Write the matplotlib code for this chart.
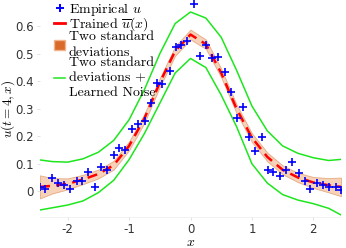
import numpy as np
import matplotlib
matplotlib.use("Agg")
import matplotlib.pyplot as plt
from matplotlib.patches import Patch
from matplotlib.lines import Line2D

plt.rcParams['mathtext.fontset'] = 'cm'
plt.rcParams['axes.unicode_minus'] = False

# empirical samples
x_emp = [-2.448, -2.367, -2.253, -2.163, -2.065, -1.956, -1.850, -1.759, -1.663, -1.560,
         -1.458, -1.360, -1.251, -1.156, -1.059, -0.953, -0.852, -0.746, -0.648, -0.547,
         -0.456, -0.339, -0.244, -0.151, -0.054, 0.052, 0.150, 0.251, 0.350, 0.445,
         0.557, 0.658, 0.749, 0.847, 0.956, 1.054, 1.156, 1.257, 1.350, 1.453,
         1.562, 1.656, 1.759, 1.857, 1.953, 2.060, 2.164, 2.259, 2.365, 2.450]
u_emp = [0.017, 0.007, 0.047, 0.030, 0.023, 0.007, 0.037, 0.037, 0.069, 0.016,
         0.087, 0.077, 0.131, 0.157, 0.149, 0.227, 0.245, 0.255, 0.320, 0.393,
         0.391, 0.439, 0.526, 0.533, 0.548, 0.681, 0.493, 0.533, 0.485, 0.487,
         0.435, 0.362, 0.265, 0.305, 0.196, 0.147, 0.196, 0.076, 0.069, 0.055,
         0.076, 0.108, 0.068, 0.037, 0.007, 0.030, 0.024, 0.014, 0.014, 0.006]

# trained mean, band and noise curves on a grid
x_grid = [-2.45, -2.25, -2.0, -1.75, -1.5, -1.25, -1.0, -0.75, -0.5, -0.25, 0.0,
          0.25, 0.5, 0.75, 1.0, 1.25, 1.5, 1.75, 2.0, 2.25, 2.45]
u_mean = [0.016, 0.020, 0.027, 0.043, 0.063, 0.095, 0.165, 0.265, 0.395, 0.510, 0.570,
          0.535, 0.430, 0.300, 0.195, 0.125, 0.078, 0.050, 0.032, 0.022, 0.016]
two_std = [0.042, 0.028, 0.020, 0.017, 0.016, 0.016, 0.016, 0.016, 0.016, 0.017, 0.018,
           0.017, 0.016, 0.016, 0.016, 0.016, 0.016, 0.017, 0.020, 0.026, 0.034]
noise_hi = [0.114, 0.108, 0.106, 0.118, 0.142, 0.185, 0.260, 0.370, 0.500, 0.610, 0.652,
            0.630, 0.560, 0.440, 0.310, 0.220, 0.165, 0.138, 0.122, 0.112, 0.116]
noise_lo = [-0.068, -0.060, -0.050, -0.035, -0.005, 0.040, 0.115, 0.210, 0.320, 0.430, 0.483,
            0.450, 0.350, 0.235, 0.100, 0.030, -0.012, -0.032, -0.045, -0.062, -0.086]

yticks = [0, 0.1, 0.2, 0.3, 0.4, 0.5, 0.6]
ytick_labels = ['0', '0.1', '0.2', '0.3', '0.4', '0.5', '0.6']
xticks = [-2, -1, 0, 1, 2]

fig = plt.figure(figsize=(3.46, 2.48), dpi=100)
ax = fig.add_axes([40 / 346, 31 / 248, 301 / 346, 217 / 248])

xg = np.array(x_grid)
mu = np.array(u_mean)
sd = np.array(two_std)

ax.fill_between(xg, mu - sd, mu + sd, facecolor='#f0b48a', alpha=0.6,
                edgecolor='#d9844e', linewidth=0.6)
ax.plot(xg, mu, color='red', linestyle=(0, (4, 2.5)), linewidth=1.8)
ax.plot(xg, noise_hi, color='#1ee61e', linewidth=1.1)
ax.plot(xg, noise_lo, color='#1ee61e', linewidth=1.1)
ax.plot(x_emp, u_emp, linestyle='none', marker='+', color='#0000ff',
        markersize=6, markeredgewidth=1.2)

ax.set_xlim(-2.45, 2.45)
ax.set_ylim(-0.0935, 0.6956)
ax.set_xticks(xticks)
ax.set_xticklabels([str(t) for t in xticks])
ax.set_yticks(yticks)
ax.set_yticklabels(ytick_labels)
ax.tick_params(labelsize=8.5, colors='#dddddd', labelcolor='#333333',
               length=2, width=0.6, pad=2.5)
for s in ['top', 'right', 'left']:
    ax.spines[s].set_visible(False)
ax.spines['bottom'].set_color('#f0f0f0')
ax.spines['bottom'].set_linewidth(0.6)

ax.set_xlabel('$x$', fontsize=10)
ax.xaxis.set_label_coords(0.5, -0.085)
ax.set_ylabel('$u(t=4,x)$', fontsize=9.5)
ax.yaxis.set_label_coords(-0.078, 0.5)

handles = [
    Line2D([], [], linestyle='none', marker='+', color='#0000ff', markersize=6, markeredgewidth=1.4),
    Line2D([], [], color='red', linestyle='-', linewidth=2),
    Patch(facecolor='#d96a2a', edgecolor='#f0b48a'),
    Line2D([], [], color='#1ee61e', linewidth=1.1),
]
labels = ['Empirical $u$', r'Trained $\overline{u}(x)$',
          'Two standard\ndeviations', 'Two standard\ndeviations +\nLearned Noise']
leg = ax.legend(handles, labels, loc='upper left', bbox_to_anchor=(0.02, 1.035),
                frameon=False, handlelength=0.8, handletextpad=0.25,
                labelspacing=-0.15, borderpad=0.1,
                prop={'family': 'cmr10', 'size': 10})
for t in leg.get_texts():
    t.set_linespacing(1.35)

fig.savefig('out.png', dpi=100)
